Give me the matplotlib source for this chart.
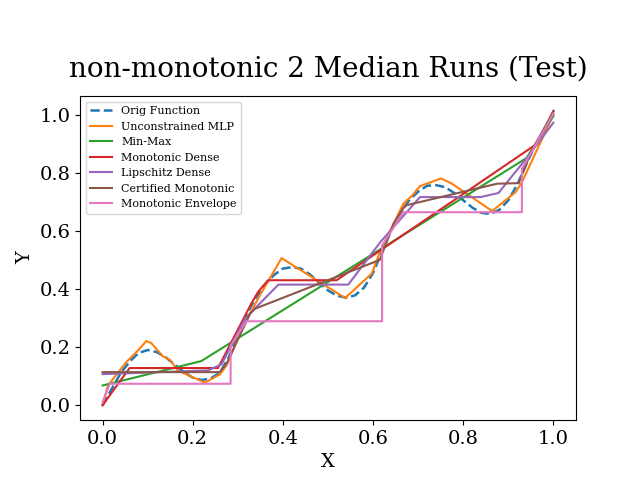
"""Median runs of the monotonic models on the non-monotonic 2 test function."""

import matplotlib

matplotlib.use("Agg")
import matplotlib.pyplot as plt

plt.rcParams["font.family"] = "serif"

TITLE = "non-monotonic 2 Median Runs (Test)"

# Original target function (sampled on a 0.02 grid).
orig_x = [0.00, 0.02, 0.04, 0.06, 0.08, 0.10, 0.12, 0.14, 0.16, 0.18,
          0.20, 0.22, 0.24, 0.26, 0.28, 0.30, 0.32, 0.34, 0.36, 0.38,
          0.40, 0.42, 0.44, 0.46, 0.48, 0.50, 0.52, 0.54, 0.56, 0.58,
          0.60, 0.62, 0.64, 0.66, 0.68, 0.70, 0.72, 0.74, 0.76, 0.78,
          0.80, 0.82, 0.84, 0.86, 0.88, 0.90, 0.92, 0.94, 0.96, 0.98, 1.00]
orig_y = [0.000, 0.055, 0.110, 0.150, 0.180, 0.190, 0.183, 0.165, 0.140, 0.115,
          0.095, 0.087, 0.092, 0.112, 0.165, 0.245, 0.315, 0.370, 0.415, 0.448,
          0.470, 0.475, 0.470, 0.450, 0.422, 0.395, 0.377, 0.370, 0.378, 0.405,
          0.455, 0.530, 0.600, 0.660, 0.705, 0.735, 0.755, 0.757, 0.750, 0.730,
          0.705, 0.680, 0.662, 0.658, 0.672, 0.705, 0.760, 0.830, 0.895, 0.950, 1.000]

# Model predictions (vertices).
mlp_x = [0.00, 0.012, 0.053, 0.079, 0.097, 0.108, 0.134, 0.149, 0.167, 0.186,
         0.227, 0.260, 0.275, 0.300, 0.327, 0.349, 0.397, 0.538, 0.597, 0.616,
         0.667, 0.686, 0.704, 0.751, 0.775, 0.864, 0.916, 0.930, 1.00]
mlp_y = [0.000, 0.068, 0.149, 0.189, 0.221, 0.214, 0.168, 0.157, 0.120, 0.106,
         0.078, 0.106, 0.137, 0.230, 0.315, 0.378, 0.506, 0.369, 0.453, 0.530,
         0.693, 0.720, 0.754, 0.780, 0.762, 0.668, 0.733, 0.767, 1.000]

minmax_x = [0.00, 0.219, 0.940, 1.00]
minmax_y = [0.068, 0.152, 0.850, 0.995]

mono_dense_x = [0.00, 0.060, 0.256, 0.330, 0.345, 0.367, 0.519, 0.964, 1.00]
mono_dense_y = [0.000, 0.128, 0.128, 0.350, 0.390, 0.430, 0.430, 0.900, 1.013]

lipschitz_x = [0.00, 0.234, 0.264, 0.316, 0.390, 0.545, 0.616, 0.704, 0.838,
               0.878, 0.942, 1.00]
lipschitz_y = [0.107, 0.120, 0.141, 0.298, 0.415, 0.415, 0.561, 0.716, 0.716,
               0.730, 0.853, 0.972]

certified_x = [0.00, 0.260, 0.275, 0.327, 0.338, 0.615, 0.645, 0.671, 0.704,
               0.875, 0.923, 0.950, 1.00]
certified_y = [0.114, 0.114, 0.143, 0.315, 0.332, 0.500, 0.624, 0.687, 0.699,
               0.762, 0.764, 0.870, 1.010]

envelope_x = [0.00, 0.016, 0.284, 0.284, 0.319, 0.620, 0.620, 0.667, 0.930,
              0.930, 1.00]
envelope_y = [0.010, 0.074, 0.074, 0.205, 0.289, 0.289, 0.550, 0.664, 0.664,
              0.813, 1.003]

SERIES = [
    ("Unconstrained MLP", mlp_x, mlp_y, "#ff7f0e"),
    ("Min-Max", minmax_x, minmax_y, "#2ca02c"),
    ("Monotonic Dense", mono_dense_x, mono_dense_y, "#d62728"),
    ("Lipschitz Dense", lipschitz_x, lipschitz_y, "#9467bd"),
    ("Certified Monotonic", certified_x, certified_y, "#8c564b"),
    ("Monotonic Envelope", envelope_x, envelope_y, "#e377c2"),
]


def main() -> None:
    fig, ax = plt.subplots(figsize=(6.4, 4.8), dpi=100)
    fig.subplots_adjust(left=0.125, right=0.9, bottom=0.125, top=0.8)

    ax.plot(orig_x, orig_y, "--", color="#1f77b4", linewidth=1.8,
            label="Orig Function")
    for name, xs, ys, color in SERIES:
        ax.plot(xs, ys, color=color, linewidth=1.5, label=name)

    ax.set_title(TITLE, fontsize=20, pad=14)
    ax.set_xlabel("X", fontsize=14)
    ax.set_ylabel("Y", fontsize=14)
    ax.tick_params(labelsize=14)
    ax.legend(loc="upper left", fontsize=8)

    fig.savefig("out.png", dpi=100)
    plt.close(fig)


if __name__ == "__main__":
    main()
